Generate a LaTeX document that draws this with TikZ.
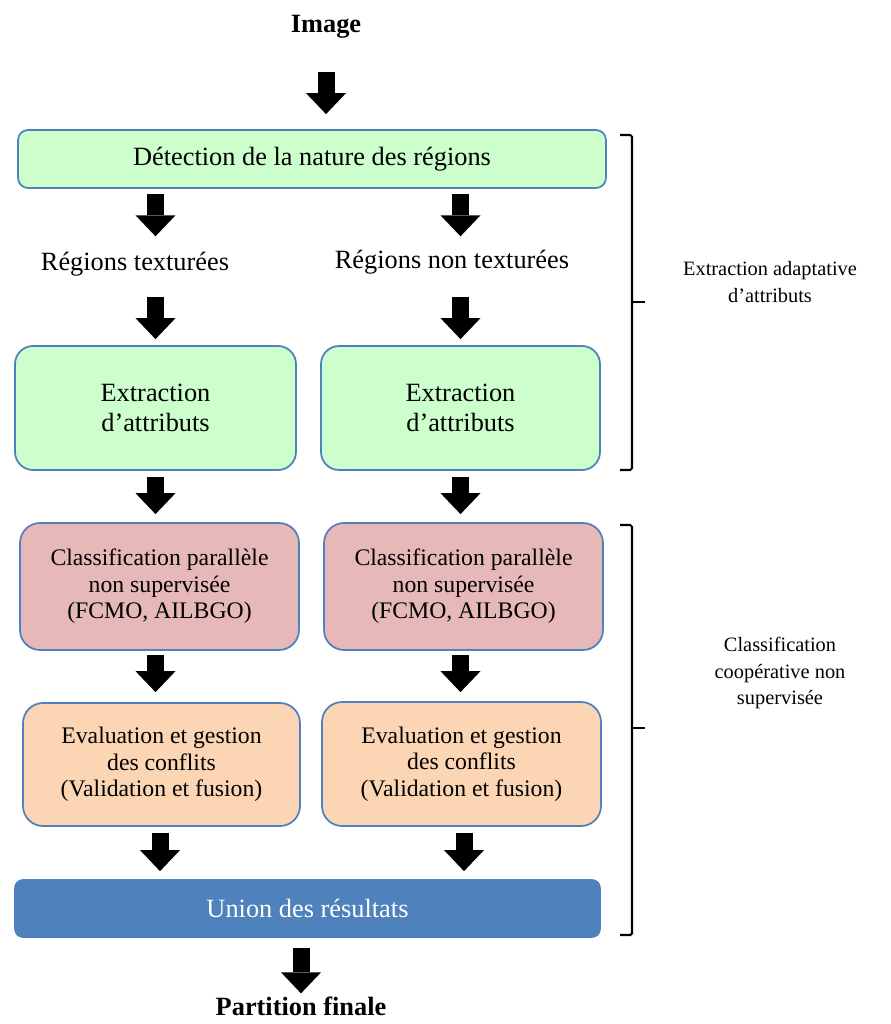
\documentclass[tikz,border=0pt]{standalone}
\usepackage{fontspec}
\setmainfont{Liberation Serif}
\usetikzlibrary{arrows.meta,calc}
\definecolor{boxblue}{HTML}{4F81BD}
\definecolor{boxgreen}{HTML}{CCFFCC}
\definecolor{boxpink}{HTML}{E6B9B8}
\definecolor{boxpeach}{HTML}{FCD5B5}
\begin{document}
\begin{tikzpicture}[x=0.02cm, y=-0.02cm,
		box/.style={draw=boxblue, line width=1pt, align=center, inner sep=0pt},
		bigfont/.style={font=\fontsize{15pt}{17pt}\selectfont},
		smallfont/.style={font=\fontsize{13.5pt}{15pt}\selectfont},
		tagtext/.style={inner sep=0pt, text height=0.7em, text depth=0.25em},
		bigarrow/.style={line width=0.34cm, -{Triangle[width=0.8cm,length=0.42cm,line width=0pt]}},
		brace/.style={line width=1.2pt, rounded corners=1pt}]
				\useasboundingbox (0,0) rectangle (890,1024);
				% top and bottom texts
				\node[tagtext, font=\fontsize{15pt}{17pt}\bfseries] (image) at (326,29) {Image};
				\node[tagtext, text depth=0pt, anchor=base, font=\fontsize{15pt}{17pt}\bfseries] (final) at (301,1015) {Partition finale};
				\node[box, bigfont, fill=boxgreen, minimum width=11.76cm, minimum height=1.16cm, rounded corners=0.2cm] (det) at (312,159) {Détection de la nature des régions};
				\node[tagtext, bigfont] (tex) at (135,267) {Régions texturées};
				\node[tagtext, bigfont] (ntex) at (452,265) {Régions non texturées};
				% left and right columns
				\node[box, bigfont, fill=boxgreen, minimum width=5.62cm, minimum height=2.48cm, rounded corners=0.36cm] (ext1) at (155.5,408) {Extraction\\d’attributs};
				\node[box, bigfont, fill=boxgreen, minimum width=5.58cm, minimum height=2.48cm, rounded corners=0.36cm] (ext2) at (460.5,408) {Extraction\\d’attributs};
				\node[box, smallfont, fill=boxpink, minimum width=5.58cm, minimum height=2.54cm, rounded corners=0.4cm] (cls1) at (159.5,586.5) {Classification parallèle\\non supervisée\\(FCMO, AILBGO)};
				\node[box, smallfont, fill=boxpink, minimum width=5.58cm, minimum height=2.54cm, rounded corners=0.4cm] (cls2) at (463.5,586.5) {Classification parallèle\\non supervisée\\(FCMO, AILBGO)};
				\node[box, smallfont, fill=boxpeach, minimum width=5.54cm, minimum height=2.46cm, rounded corners=0.4cm] (eval1) at (161.5,764.5) {Evaluation et gestion\\des conflits\\(Validation et fusion)};
				\node[box, smallfont, fill=boxpeach, minimum width=5.58cm, minimum height=2.48cm, rounded corners=0.4cm] (eval2) at (461.5,764) {Evaluation et gestion\\des conflits\\(Validation et fusion)};
				\node[box, bigfont, fill=boxblue, text=white, minimum width=11.7cm, minimum height=1.14cm, rounded corners=0.16cm] (union) at (307.5,908.5) {Union des résultats};
				% arrows
				\draw[bigarrow] ($(image.south)+(0,34)$) -- ($(det.north -| image)+(0,-15)$);
				\draw[bigarrow] ($(det.south -| ext1)+(0,5)$) -- ($(tex.north -| ext1)+(0,-22)$);
				\draw[bigarrow] ($(det.south -| ext2)+(0,5)$) -- ($(ntex.north -| ext2)+(0,-20)$);
				\draw[bigarrow] ($(tex.south -| ext1)+(0,21)$) -- ($(ext1.north)+(0,-6)$);
				\draw[bigarrow] ($(ntex.south -| ext2)+(0,23)$) -- ($(ext2.north)+(0,-6)$);
				\draw[bigarrow] ($(ext1.south)+(0,6)$) -- ($(cls1.north -| ext1)+(0,-8)$);
				\draw[bigarrow] ($(ext2.south)+(0,6)$) -- ($(cls2.north -| ext2)+(0,-8)$);
				\draw[bigarrow] ($(cls1.south -| ext1)+(0,4)$) -- ($(eval1.north -| ext1)+(0,-10)$);
				\draw[bigarrow] ($(cls2.south -| ext2)+(0,4)$) -- ($(eval2.north -| ext2)+(0,-9)$);
				\draw[bigarrow] ($(eval1.south -| 160,0)+(0,6)$) -- ($(union.north -| 160,0)+(0,-8)$);
				\draw[bigarrow] ($(eval2.south -| 464,0)+(0,6)$) -- ($(union.north -| 464,0)+(0,-8)$);
				\draw[bigarrow] ($(union.south -| final)+(0,10)$) -- ($(final.north)+(0,-9)$);
				% braces
				\draw[brace] (620,135) -- (632,135) -- (632,470) -- (620,470);
				\draw[brace] (632,302) -- (645,302);
				\draw[brace] (620,525) -- (632,525) -- (632,935) -- (620,935);
				\draw[brace] (632,728) -- (645,728);
				\node[align=center, font=\fontsize{11.6pt}{15.3pt}\selectfont] (adapt) at (770,282) {Extraction adaptative\\d’attributs};
				\node[align=center, font=\fontsize{11.6pt}{15.3pt}\selectfont] (coop) at (780,673) {Classification\\coopérative non\\supervisée};
			\end{tikzpicture}
\end{document}
